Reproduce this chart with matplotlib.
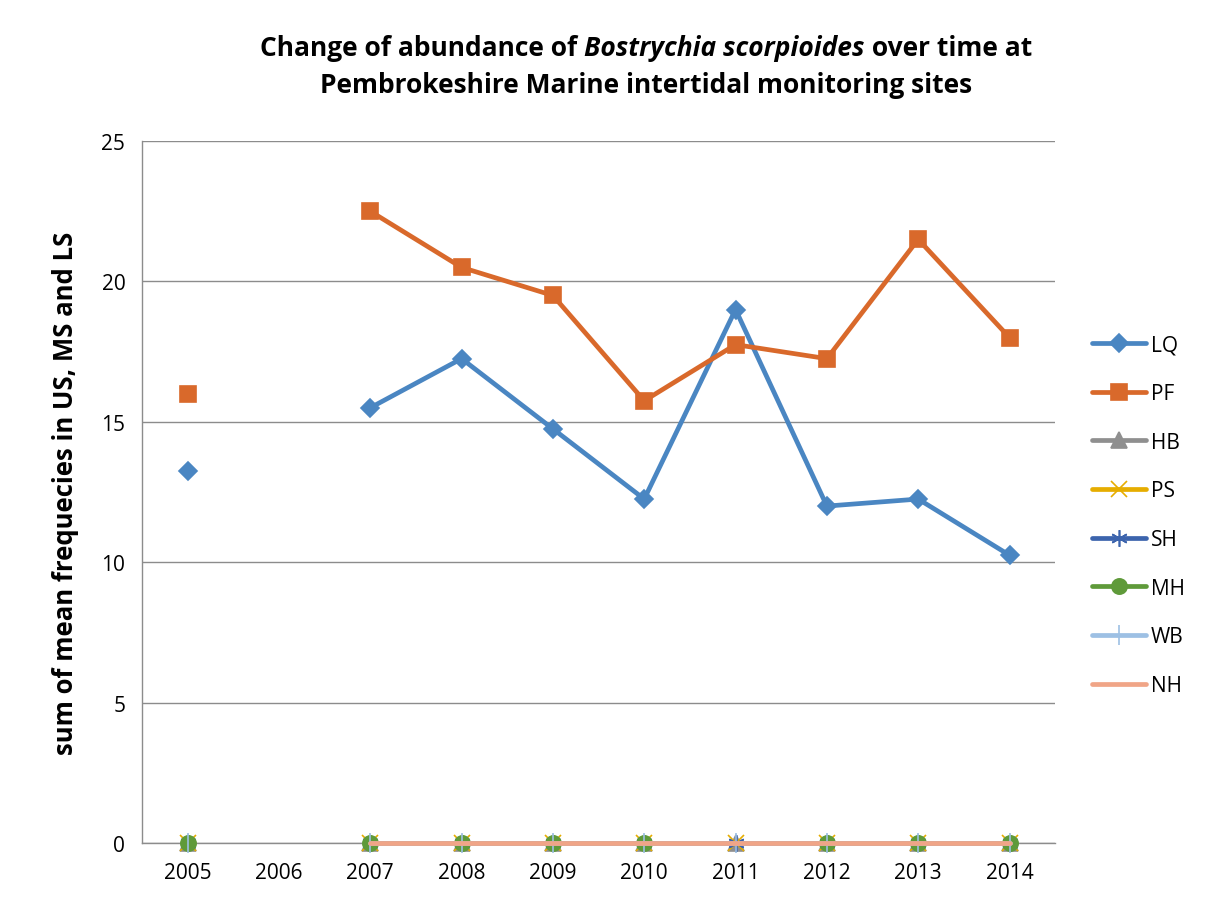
import numpy as np
import matplotlib
matplotlib.use("Agg")
import matplotlib.pyplot as plt

years = ["2005", "2006", "2007", "2008", "2009", "2010", "2011", "2012", "2013", "2014"]
nan = np.nan
LQ = [13.25, nan, 15.5, 17.25, 14.75, 12.25, 19.0, 12.0, 12.25, 10.25]
PF = [16.0, nan, 22.5, 20.5, 19.5, 15.75, 17.75, 17.25, 21.5, 18.0]
HB = [0, nan, 0, 0, 0, 0, 0, 0, 0, 0]
PS = [0, nan, 0, 0, 0, 0, 0, 0, 0, 0]
SH = [0, nan, 0, 0, 0, 0, 0, 0, 0, 0]
MH = [0, nan, 0, 0, 0, 0, nan, 0, 0, 0]
WB = [0, nan, 0, 0, 0, 0, 0, 0, 0, 0]
NH = [nan, nan, 0, 0, 0, 0, 0, 0, 0, 0]

# name, values, colour, marker, marker size
series = [
    ("LQ", LQ, "#4a86c2", "D", 9),
    ("PF", PF, "#d9692b", "s", 11),
    ("HB", HB, "#8f8f8f", "^", 11),
    ("PS", PS, "#e6ad00", "x", 11),
    ("SH", SH, "#3c64ad", (6, 2, 0), 12),
    ("MH", MH, "#5f9a3a", "o", 11),
    ("WB", WB, "#9dc0e4", "|", 14),
    ("NH", NH, "#f0a587", None, 0),
]

plt.rcParams["font.family"] = ["Open Sans", "DejaVu Sans"]

fig = plt.figure(figsize=(12.08, 9.03), dpi=100)
ax = fig.add_axes([0.1175, 0.0653, 0.756, 0.7774])

x = np.arange(len(years))
for name, vals, col, mk, ms in series:
    ax.plot(x, vals, color=col, lw=3.4, marker=mk, markersize=ms,
            markeredgecolor=col, markerfacecolor=col, markeredgewidth=1.2,
            label=name, solid_capstyle="round", zorder=3, clip_on=False)

ax.set_xlim(-0.5, len(years) - 0.5)
ax.set_ylim(0, 25)
ax.set_yticks([0, 5, 10, 15, 20, 25])
ax.set_xticks(x)
ax.set_xticklabels(years, fontsize=15)
ax.tick_params(axis="y", labelsize=15, length=0, pad=12)
ax.tick_params(axis="x", length=0, pad=14)
ax.grid(axis="y", color="#8c8c8c", lw=1)
ax.set_axisbelow(True)
for s in ["top", "right"]:
    ax.spines[s].set_visible(False)
for s in ["left", "bottom"]:
    ax.spines[s].set_color("#8c8c8c")
    ax.spines[s].set_linewidth(1)

ax.set_ylabel("sum of mean frequecies in US, MS and LS", fontsize=18.5,
              fontweight="bold", labelpad=16)

# title, line one has an italic species name in the middle
parts = [("Change of abundance of ", "normal"),
         ("Bostrychia scorpioides", "italic"),
         (" over time at", "normal")]
fig.canvas.draw()
r = fig.canvas.get_renderer()
texts = []
for s, st in parts:
    t = fig.text(0, 0.946, s, ha="left", va="center", fontsize=19,
                 fontweight="bold", style=st)
    texts.append(t)
widths = [t.get_window_extent(r).width for t in texts]
xpos = 0.535 * fig.bbox.width - sum(widths) / 2
for t, w in zip(texts, widths):
    t.set_x(xpos / fig.bbox.width)
    xpos += w
fig.text(0.535, 0.905, "Pembrokeshire Marine intertidal monitoring sites",
         ha="center", va="center", fontsize=19, fontweight="bold")

ax.legend(loc="center left", bbox_to_anchor=(1.02, 0.467), frameon=False,
          fontsize=15, handlelength=2.6, labelspacing=1.33, handletextpad=0.2)

fig.savefig("out.png", dpi=100)
